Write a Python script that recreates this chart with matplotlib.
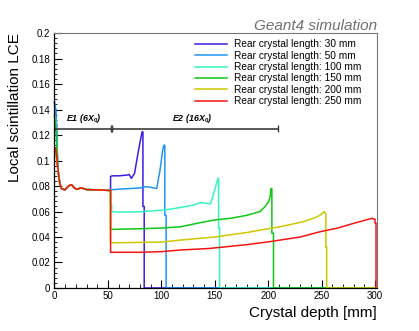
import matplotlib
matplotlib.use("Agg")
import matplotlib.pyplot as plt
from matplotlib.ticker import MultipleLocator, FuncFormatter

plt.rcParams['font.family'] = 'Liberation Sans'
plt.rcParams['mathtext.fontset'] = 'custom'
plt.rcParams['mathtext.it'] = 'Liberation Sans:italic:bold'
plt.rcParams['mathtext.rm'] = 'Liberation Sans:bold'

# rear crystal lengths (mm) and their colours
lengths = [30, 50, 100, 150, 200, 250]
colors = ['#3a1ee6', '#1e96f5', '#35f5c0', '#10c814', '#cfc800', '#f51414']

# first bins at the front face, one list per curve
head_depth = [0, 1, 2]
head_lce = {
    30:  [0.145, 0.140, 0.125],
    50:  [0.146, 0.141, 0.128],
    100: [0.136, 0.132, 0.118],
    150: [0.135, 0.128, 0.115],
    200: [0.103, 0.107, 0.100],
    250: [0.107, 0.110, 0.104],
}

# shared front crystal part (E1)
front_depth = [3, 4, 5, 6.5, 8, 9.7, 12, 14, 16, 18, 20.6, 23, 25, 30, 40, 52.5]
front_lce = [0.095, 0.088, 0.082, 0.078, 0.0775, 0.077, 0.079, 0.0805, 0.081,
             0.079, 0.0774, 0.078, 0.0786, 0.0772, 0.077, 0.0765]

# rear crystal part, one per length
tail_depth = {
    30:  [52.5, 54, 60, 67, 70, 72, 75, 77, 80, 82, 82.8, 82.8, 84, 84, 301],
    50:  [52.5, 60, 70, 80, 86, 90, 95.7, 98.8, 101.3, 102.5, 103.3, 103.3,
          104.5, 104.5, 301],
    100: [52.5, 53.5, 53.5, 60, 80, 100, 110, 120, 130, 137, 142, 146, 149,
          152, 153, 153.6, 153.6, 154.6, 154.6, 301],
    150: [52.5, 55, 80, 100, 118, 135, 149, 165, 180, 192.6, 197, 200.4, 202,
          202.6, 203.5, 203.5, 205, 205, 301],
    200: [52.5, 60, 80, 100, 118, 150, 180, 202, 211, 233, 245, 249, 252.5,
          254, 254, 254.8, 254.8, 301],
    250: [52.5, 80, 100, 118, 145, 180, 202, 230, 249, 265, 280, 294, 297.4,
          299, 300, 300, 301, 301],
}
tail_lce = {
    30:  [0.0875, 0.088, 0.088, 0.0885, 0.089, 0.086, 0.090, 0.100, 0.114,
          0.1225, 0.1225, 0.064, 0.064, 0, 0],
    50:  [0.077, 0.0775, 0.078, 0.0785, 0.0795, 0.079, 0.078, 0.0925, 0.108,
          0.112, 0.112, 0.057, 0.057, 0, 0],
    100: [0.066, 0.066, 0.060, 0.0595, 0.0598, 0.061, 0.062, 0.0635, 0.065,
          0.067, 0.0665, 0.066, 0.074, 0.083, 0.086, 0.086, 0.047, 0.047, 0, 0],
    150: [0.046, 0.046, 0.0465, 0.047, 0.048, 0.051, 0.0533, 0.0547, 0.057,
          0.060, 0.0638, 0.0677, 0.072, 0.078, 0.078, 0.043, 0.043, 0, 0],
    200: [0.0355, 0.0355, 0.0358, 0.036, 0.0376, 0.040, 0.0435, 0.0468, 0.048,
          0.052, 0.0555, 0.0573, 0.060, 0.058, 0.032, 0.032, 0, 0],
    250: [0.028, 0.028, 0.0285, 0.0298, 0.031, 0.034, 0.0364, 0.040, 0.0442,
          0.047, 0.0507, 0.0539, 0.0547, 0.054, 0.054, 0.051, 0.051, 0],
}

# E1 / E2 section marker
section_edges = [0, 52.9, 54.1, 209]
section_y = 0.125
section_labels = [r'E1 (6$X_0$)', r'E2 (16$X_0$)']
section_label_x = [11, 109.7]

fig = plt.figure(figsize=(4.19, 3.31), dpi=100)
ax = fig.add_axes([0.130, 0.130, 0.770, 0.770])

for L, c in zip(lengths, colors):
    x = head_depth + front_depth + tail_depth[L]
    y = head_lce[L] + front_lce + tail_lce[L]
    ax.plot(x, y, color=c, lw=1.1, clip_on=False,
            label=f'Rear crystal length: {L} mm')

# section marker
ax.plot([section_edges[0], section_edges[-1]], [section_y, section_y],
        color='#3c3c3c', lw=1.2)
ax.vlines(section_edges, section_y - 0.0027, section_y + 0.0027,
          color='#3c3c3c', lw=1.0)
for lab, lx in zip(section_labels, section_label_x):
    ax.text(lx, 0.131, lab, fontsize=6.4, fontweight='bold', style='italic',
            ha='left', va='baseline', color='black')

ax.set_xlim(0, 302)
ax.set_ylim(0, 0.2)
ax.xaxis.set_major_locator(MultipleLocator(50))
ax.xaxis.set_minor_locator(MultipleLocator(10))
ax.yaxis.set_major_locator(MultipleLocator(0.02))
ax.yaxis.set_minor_locator(MultipleLocator(0.004))
ax.yaxis.set_major_formatter(FuncFormatter(lambda v, p: f'{v:g}'))
ax.tick_params(which='both', direction='in', top=False, right=False,
               labelsize=7, colors='black')
ax.tick_params(axis='x', which='major', length=6, pad=2)
ax.tick_params(axis='x', which='minor', length=3)
ax.tick_params(axis='y', which='major', length=5.5, pad=3)
ax.tick_params(axis='y', which='minor', length=2.5)
for s in ['top', 'right']:
    ax.spines[s].set_color('#777777')
    ax.spines[s].set_linewidth(0.8)
for s in ['left', 'bottom']:
    ax.spines[s].set_linewidth(0.9)

ax.set_xlabel('Crystal depth [mm]', fontsize=11)
ax.xaxis.set_label_coords(1.0, -0.072)
ax.xaxis.label.set_ha('right')
ax.set_ylabel('Local scintillation LCE', fontsize=11)
ax.yaxis.set_label_coords(-0.10, 1.0)
ax.yaxis.label.set_ha('right')

ax.text(1.0, 1.012, 'Geant4 simulation', transform=ax.transAxes,
        ha='right', va='baseline', fontsize=11, style='italic', color='#707070')

ax.legend(loc='upper left', bbox_to_anchor=(0.436, 0.975), frameon=False,
          fontsize=7.3, handlelength=3.1, handletextpad=0.75, labelspacing=0.13,
          borderpad=0, borderaxespad=0)

fig.savefig('out.png', dpi=100)
